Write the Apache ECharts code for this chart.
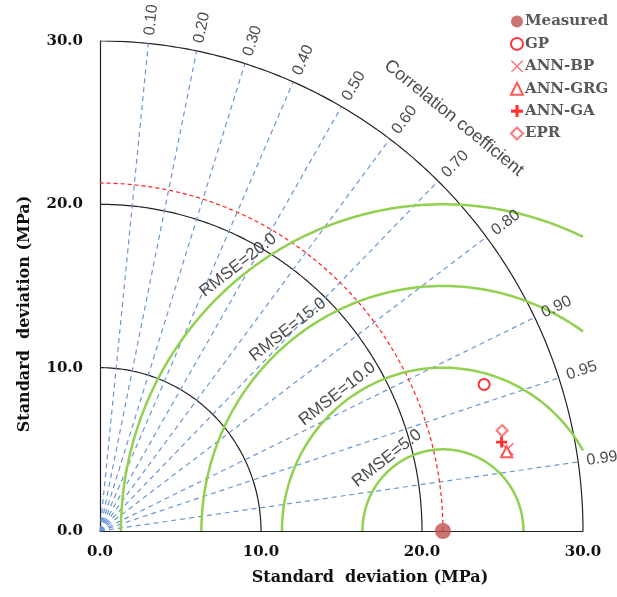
<!DOCTYPE html>
<html>
<head>
<meta charset="utf-8">
<script src="https://cdn.jsdelivr.net/npm/echarts@6/dist/echarts.min.js"></script>
<style>html,body{margin:0;padding:0;background:#fff}#c{width:617px;height:597px}</style>
</head>
<body>
<div id="c"></div>
<script>
// ---- data ----
const refName = 'Measured';
const refStd = 21.3;
const modelNames = ['GP', 'ANN-BP', 'ANN-GRG', 'ANN-GA', 'EPR'];
const modelStd = [25.49, 25.79, 25.72, 25.53, 25.72];
const modelCorr = [0.936, 0.981, 0.982, 0.977, 0.971];
const corrTicks = [0.1, 0.2, 0.3, 0.4, 0.5, 0.6, 0.7, 0.8, 0.9, 0.95, 0.99];
const corrTickLabels = ['0.10', '0.20', '0.30', '0.40', '0.50', '0.60', '0.70', '0.80', '0.90', '0.95', '0.99'];
const stdRings = [10, 20, 30];
const rmseLevels = [5, 10, 15, 20];
const rmseLabels = ['RMSE=5.0', 'RMSE=10.0', 'RMSE=15.0', 'RMSE=20.0'];
const axisMax = 30;
const axisStep = 10;
const axisTitle = 'Standard  deviation (MPa)';
const corrTitle = 'Correlation coefficient';

// ---- helpers (geometry only) ----
const rad = d => d * Math.PI / 180;
function toXY(s, c) { return [s * c, s * Math.sqrt(Math.max(0, 1 - c * c))]; }
function arc(cx, r, a0, a1, n) {
  const pts = [];
  for (let i = 0; i <= n; i++) {
    const a = a0 + (a1 - a0) * i / n;
    pts.push([cx + r * Math.cos(a), r * Math.sin(a)]);
  }
  return pts;
}

const series = [];
// std rings
stdRings.forEach(r => {
  series.push({ type: 'line', data: arc(0, r, 0, Math.PI / 2, 180), showSymbol: false, silent: true,
    lineStyle: { color: '#222', width: 1.2 }, z: 2 });
});
// reference dashed ring
series.push({ type: 'line', data: arc(0, refStd, 0, Math.PI / 2, 180), showSymbol: false, silent: true,
  lineStyle: { color: '#ff2020', width: 1.2, type: [4, 3] }, z: 3 });
// correlation rays
corrTicks.forEach(c => {
  series.push({ type: 'line', data: [[0, 0], toXY(axisMax, c)], showSymbol: false, silent: true,
    lineStyle: { color: '#6a97d0', width: 1.2, type: [5, 4] }, z: 2 });
});
// RMSE arcs
rmseLevels.forEach(R => {
  const a0 = Math.acos(Math.min(1, (axisMax - refStd) / R));
  series.push({ type: 'line', data: arc(refStd, R, a0, Math.PI, 200), showSymbol: false, silent: true,
    lineStyle: { color: '#92d050', width: 2.5 }, z: 4 });
});
// labels: correlation ticks
series.push({
  type: 'scatter', silent: true, clip: false, symbolSize: 1, itemStyle: { color: 'rgba(0,0,0,0)' }, z: 6,
  data: corrTicks.map((c, i) => ({
    name: corrTickLabels[i], value: toXY(30.5, c),
    label: { show: true, formatter: '{b}', position: 'right', distance: 0,
      rotate: Math.acos(c) * 180 / Math.PI, align: 'left', verticalAlign: 'middle',
      fontFamily: 'Liberation Sans', fontSize: 16, color: '#1a1a1a' }
  })).concat([{
    name: corrTitle, value: [33.5 * Math.cos(rad(49)), 33.5 * Math.sin(rad(49))],
    label: { show: true, formatter: '{b}', position: 'inside', rotate: -39,
      fontFamily: 'Liberation Sans', fontSize: 18, color: '#1a1a1a' }
  }])
});
// RMSE labels
series.push({
  type: 'scatter', silent: true, clip: false, symbolSize: 1, itemStyle: { color: 'rgba(0,0,0,0)' }, z: 6,
  data: rmseLevels.map((R, i) => ({
    name: rmseLabels[i],
    value: [refStd + (R + 0.65) * Math.cos(rad(128)), (R + 0.65) * Math.sin(rad(128))],
    label: { show: true, formatter: '{b}', position: 'inside', rotate: 38,
      fontFamily: 'Liberation Sans', fontSize: 17, color: '#1a1a1a' }
  }))
});

// points
const styles = {
  'GP': { symbol: 'emptyCircle', symbolSize: 11, itemStyle: { color: '#ff0000', borderWidth: 2.6 } },
  'ANN-BP': { symbol: 'path://M0,0.7 L0.7,0 L5,4.3 L9.3,0 L10,0.7 L5.7,5 L10,9.3 L9.3,10 L5,5.7 L0.7,10 L0,9.3 L4.3,5 Z', symbolSize: 13, itemStyle: { color: '#ff3a3a' } },
  'ANN-GRG': { symbol: 'emptyTriangle', symbolSize: 11, itemStyle: { color: '#ff3030', borderWidth: 1.1 } },
  'ANN-GA': { symbol: 'path://M3.7,0 H6.3 V3.7 H10 V6.3 H6.3 V10 H3.7 V6.3 H0 V3.7 H3.7 Z', symbolSize: 11, itemStyle: { color: '#ff0000' } },
  'EPR': { symbol: 'emptyDiamond', symbolSize: 11, itemStyle: { color: '#ff5555', borderWidth: 1.2 } }
};
series.push({ name: refName, type: 'scatter', data: [[refStd, 0]], symbol: 'circle', symbolSize: 16, clip: false,
  itemStyle: { color: '#c0504d' }, z: 10, silent: true });
modelNames.forEach((n, i) => {
  series.push(Object.assign({ name: n, type: 'scatter', data: [toXY(modelStd[i], modelCorr[i])], z: 10, silent: true, clip: false }, styles[n]));
});

const tickFont = { fontFamily: 'DejaVu Serif', fontWeight: 'bold', fontSize: 15, color: '#111' };

const option = {
  animation: false,
  backgroundColor: '#fff',
  grid: { left: 100, right: 34, top: 41, bottom: 66, containLabel: false },
  xAxis: { type: 'value', min: 0, max: axisMax, interval: axisStep,
    axisLine: { show: true, lineStyle: { color: '#222', width: 1.2 } }, axisTick: { show: false },
    splitLine: { show: false },
    axisLabel: Object.assign({ margin: 14, formatter: v => v.toFixed(1) }, tickFont) },
  yAxis: { type: 'value', min: 0, max: axisMax, interval: axisStep,
    axisLine: { show: true, lineStyle: { color: '#222', width: 1.2 } }, axisTick: { show: false },
    splitLine: { show: false },
    axisLabel: Object.assign({ margin: 17, formatter: v => v.toFixed(1) }, tickFont) },
  legend: {
    data: [refName].concat(modelNames), orient: 'vertical', left: 505, top: 9,
    itemWidth: 12, itemHeight: 12, itemGap: 7.4, selectedMode: false,
    textStyle: { fontFamily: 'DejaVu Serif', fontWeight: 'bold', fontSize: 15, color: '#595959', padding: [0, 0, 0, -3] }
  },
  graphic: [
    { type: 'text', x: 370, y: 578,
      style: { text: axisTitle, textAlign: 'center', textVerticalAlign: 'middle',
        font: 'bold 16px "DejaVu Serif"', fill: '#111' } },
    { type: 'text', x: 25, y: 314, rotation: Math.PI / 2,
      style: { text: axisTitle, textAlign: 'center', textVerticalAlign: 'middle',
        font: 'bold 16px "DejaVu Serif"', fill: '#111' } }
  ],
  series: series
};
const chart = echarts.init(document.getElementById('c'), null, { renderer: 'canvas' });
chart.setOption(option);
</script>
</body>
</html>
